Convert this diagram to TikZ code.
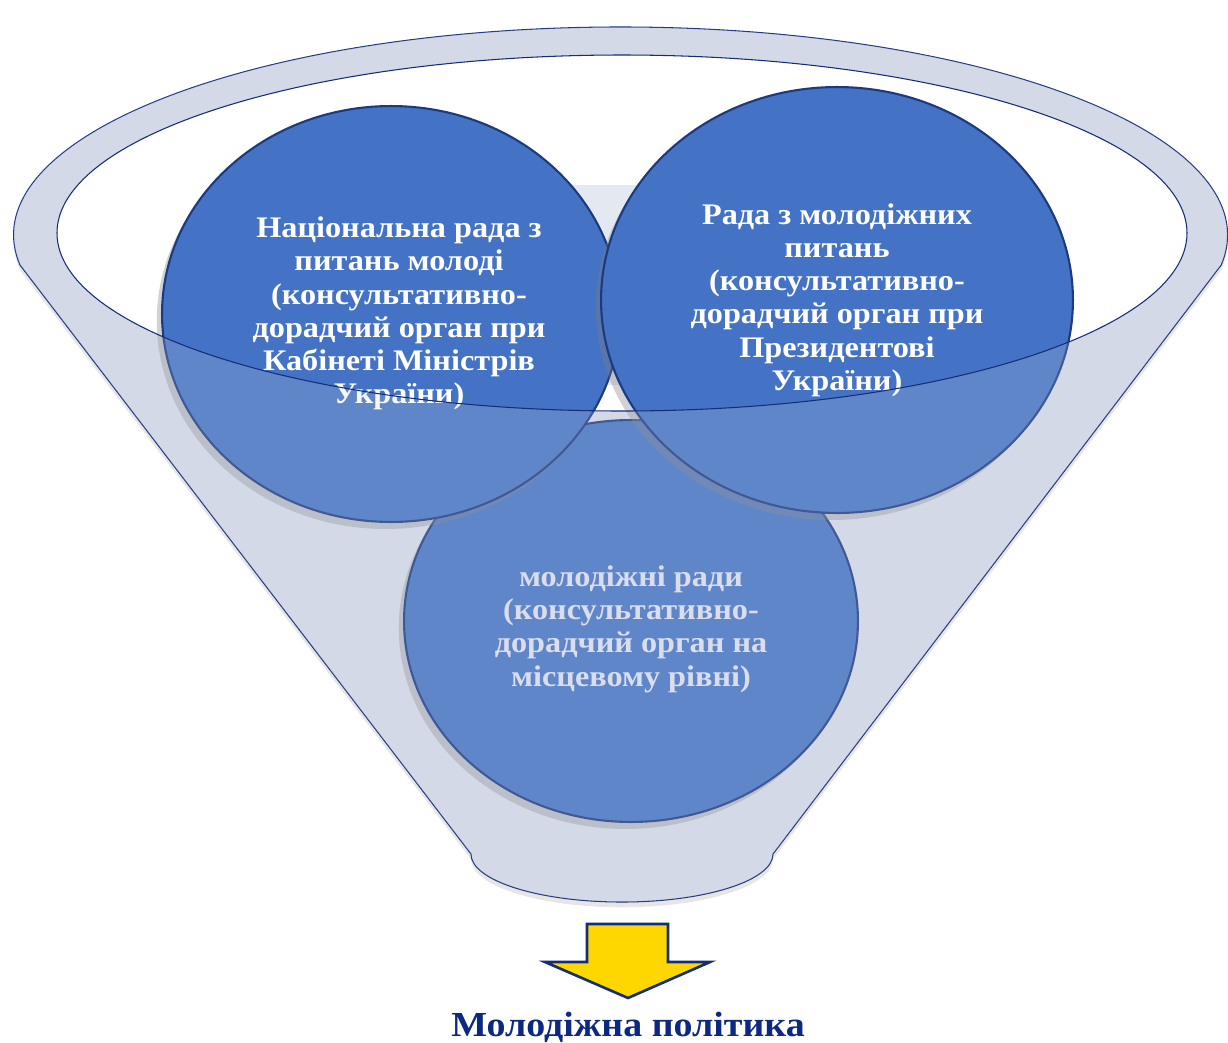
\documentclass[tikz,border=0pt]{standalone}
\usepackage{fontspec}
\setmainfont[FakeStretch=1.08]{Liberation Serif}
\usetikzlibrary{positioning,shapes.geometric,shadows}
\definecolor{funnelfill}{RGB}{211,217,230}
\definecolor{funnelline}{RGB}{20,45,120}
\definecolor{bubblefill}{RGB}{68,114,196}
\definecolor{bubbleline}{RGB}{28,58,128}
\definecolor{lowtext}{RGB}{219,223,238}
\definecolor{titleblue}{RGB}{12,40,130}
\definecolor{arrowfill}{RGB}{255,215,0}

\begin{document}
\begin{tikzpicture}[x=0.02cm,y=-0.02cm,
  bubble/.style={ellipse,draw=bubbleline,line width=1.2pt,fill=bubblefill,text=white,
    inner sep=0pt,align=center,font=\bfseries\fontsize{17}{18.9}\selectfont,
    drop shadow={shadow xshift=-3pt,shadow yshift=-4pt,opacity=0.35}}]
\useasboundingbox (0,0) rectangle (1228,1042);

% funnel body and opening
\path[fill=funnelfill,draw=funnelline,line width=0.6pt,
  drop shadow={shadow xshift=0pt,shadow yshift=-3pt,opacity=0.2}]
  (20,265) arc[start angle=171.7,end angle=368.3,x radius=607,y radius=208]
  -- (773,854) arc[start angle=0,end angle=180,x radius=151,y radius=48] -- cycle;
\fill[white] (622,233) ellipse[x radius=565,y radius=178];
\fill[funnelfill!60!white] (572,185) rectangle (662,385);

% the three councils
\node[bubble,text=lowtext,minimum width=9.08cm,minimum height=8.04cm] (mrady) at (631,621)
  {\rule{0pt}{21pt}молодіжні ради\\(консультативно-\\дорадчий орган на\\місцевому рівні)};
\node[bubble,minimum width=9.16cm,minimum height=8.32cm] (nrada) at (391,314)
  {\begin{tabular}{@{\hspace{0.32cm}}c@{}}Національна рада з\\питань молоді\\(консультативно-\\дорадчий орган при\\Кабінеті Міністрів\\України)\end{tabular}};
\node[bubble,minimum width=9.44cm,minimum height=8.52cm] (rada) at (837,300)
  {Рада з молодіжних\\питань\\(консультативно-\\дорадчий орган при\\Президентові\\України)};

% front of the funnel
\fill[funnelfill,opacity=0.2,even odd rule]
  (20,265) arc[start angle=171.7,end angle=368.3,x radius=607,y radius=208]
  -- (773,854) arc[start angle=0,end angle=180,x radius=151,y radius=48] -- cycle
  (622,233) ellipse[x radius=565,y radius=178];
\draw[funnelline,line width=0.6pt] (622,233) ellipse[x radius=565,y radius=178];

% result
\draw[funnelline,line width=1.5pt,fill=arrowfill] (587,924) -- (668,924) -- (668,962)
  -- (710,962) -- (628,998) coordinate (tip) -- (545,962) -- (587,962) -- cycle;
\node[below=8pt of tip,inner sep=0pt,text=titleblue,font=\bfseries\fontsize{20}{22}\selectfont] (policy)
  {Молодіжна політика};
\end{tikzpicture}
\end{document}
